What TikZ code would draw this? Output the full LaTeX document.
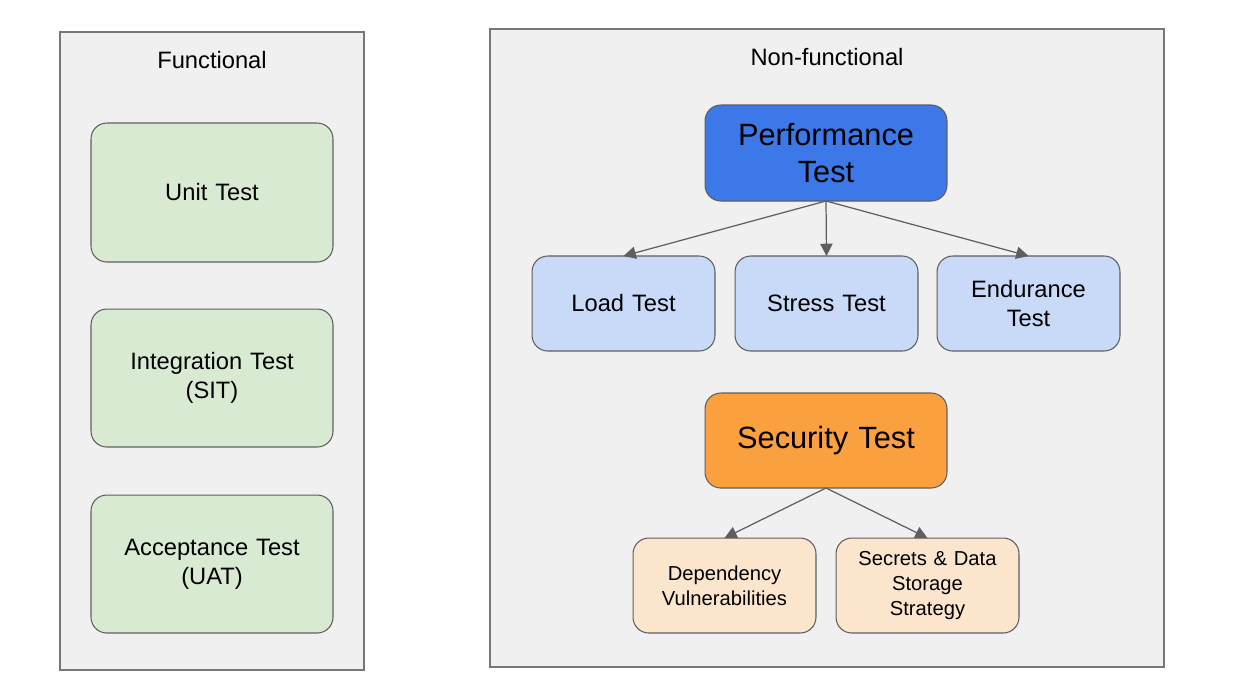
\documentclass[tikz,border=0pt]{standalone}
\usepackage{fontspec}
\setmainfont{Liberation Sans}
\usepackage{tikz}
\usetikzlibrary{shapes,arrows.meta,positioning,calc}
\usepackage{xcolor}

\definecolor{panelgray}{HTML}{F0F0F0}
\definecolor{edgegray}{HTML}{5F5F5F}
\definecolor{funcgreen}{HTML}{D9EAD3}
\definecolor{perfblue}{HTML}{3C78E8}
\definecolor{subblue}{HTML}{C9DAF8}
\definecolor{secorange}{HTML}{FBA03E}
\definecolor{suborange}{HTML}{FCE5CD}

\tikzset{
  panel/.style={draw=edgegray!85, line width=0.8pt, fill=panelgray},
  testbox/.style={draw=edgegray, line width=0.6pt, rounded corners=9pt, align=center,
    inner sep=0pt, outer sep=0pt, text width=4.3cm},
  conn/.style={draw=edgegray, line width=0.7pt, -{Triangle[length=7pt,width=7pt]}}
}

\begin{document}
\begin{tikzpicture}[x=0.02cm, y=-0.02cm]
            \useasboundingbox (0,0) rectangle (1246,698);

            % Panels
            \filldraw[panel] (60,32) rectangle (364,670);
            \filldraw[panel] (490,29) rectangle (1164,667);
            \node[font=\fontsize{13.5}{16}\selectfont] (func) at (212,60) {Functional};
            \node[font=\fontsize{13.5}{16}\selectfont] (nonfunc) at (827,57) {Non-functional};

            % Functional tests
            \node[testbox, fill=funcgreen, minimum width=4.84cm, minimum height=2.78cm,
                  font=\fontsize{13.5}{16.5}\selectfont] (unit) at (212,192.5) {Unit Test};
            \node[testbox, fill=funcgreen, minimum width=4.84cm, minimum height=2.76cm,
                  font=\fontsize{13.5}{16.5}\selectfont] (sit) at (212,378) {Integration Test\\(SIT)};
            \node[testbox, fill=funcgreen, minimum width=4.84cm, minimum height=2.76cm,
                  font=\fontsize{13.5}{16.5}\selectfont] (uat) at (212,564) {Acceptance Test\\(UAT)};

            % Performance branch
            \node[testbox, fill=perfblue, minimum width=4.84cm, minimum height=1.92cm,
                  font=\fontsize{17.5}{21.5}\selectfont] (perf) at (826,153) {Performance\\Test};
            \node[testbox, fill=subblue, minimum width=3.66cm, minimum height=1.9cm, text width=3.4cm,
                  font=\fontsize{13.5}{16}\selectfont] (load) at (623.5,303.5) {Load Test};
            \node[testbox, fill=subblue, minimum width=3.66cm, minimum height=1.9cm, text width=3.4cm,
                  font=\fontsize{13.5}{16}\selectfont] (stress) at (826.5,303.5) {Stress Test};
            \node[testbox, fill=subblue, minimum width=3.66cm, minimum height=1.9cm, text width=3.4cm,
                  font=\fontsize{13.5}{16}\selectfont] (endur) at (1028.5,303.5) {Endurance\\Test};
            \draw[conn] (perf.south) -- (load.north);
            \draw[conn] (perf.south) -- (stress.north);
            \draw[conn] (perf.south) -- (endur.north);

            % Security branch
            \node[testbox, fill=secorange, minimum width=4.84cm, minimum height=1.9cm,
                  font=\fontsize{17.5}{21.5}\selectfont] (sec) at (826,440.5) {Security Test};
            \node[testbox, fill=suborange, minimum width=3.66cm, minimum height=1.9cm, text width=3.4cm,
                  font=\fontsize{11.5}{14}\selectfont] (dep) at (724.5,585.5) {Dependency\\Vulnerabilities};
            \node[testbox, fill=suborange, minimum width=3.66cm, minimum height=1.9cm, text width=3.4cm,
                  font=\fontsize{11.5}{14}\selectfont] (secret) at (927.5,585.5) {Secrets \& Data\\Storage\\Strategy};
            \draw[conn] (sec.south) -- (dep.north);
            \draw[conn] (sec.south) -- (secret.north);
        \end{tikzpicture}
\end{document}
